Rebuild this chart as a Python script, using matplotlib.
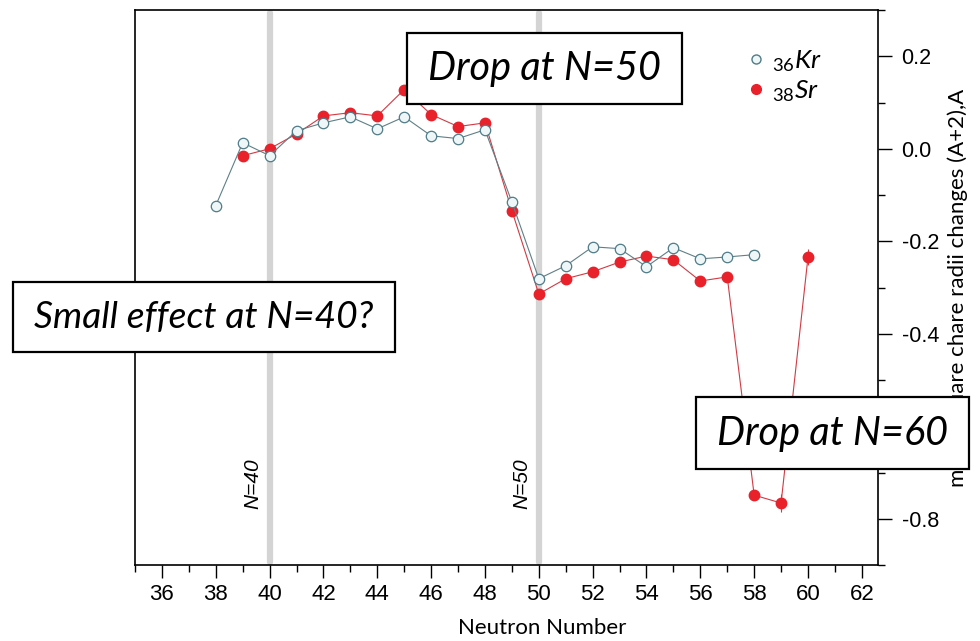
import numpy as np
import matplotlib
matplotlib.use('Agg')
import matplotlib.pyplot as plt
from matplotlib.patches import Rectangle
from matplotlib.lines import Line2D

# isotope shift data
kr_n = list(range(38, 59))
kr_dr = [-0.123, 0.013, -0.015, 0.039, 0.056, 0.069, 0.043, 0.069, 0.028, 0.022, 0.041,
         -0.115, -0.281, -0.253, -0.212, -0.216, -0.255, -0.214, -0.238, -0.234, -0.229]
kr_err = [0.0] * 20 + [0.008]

sr_n = list(range(39, 61))
sr_dr = [-0.015, 0.0, 0.032, 0.071, 0.078, 0.071, 0.128, 0.074, 0.048, 0.056,
         -0.134, -0.314, -0.281, -0.266, -0.245, -0.232, -0.240, -0.286, -0.277,
         -0.749, -0.766, -0.234]
sr_err = [0.0] * 19 + [0.006, 0.02, 0.018]

shell_n = [40, 50]
x_ticks = list(range(36, 63, 2))
y_ticks = [0.2, 0.0, -0.2, -0.4, -0.6, -0.8]
y_labels = ['0.2', '0.0', '-0.2', '-0.4', '-0.6', '-0.8']

KR_LINE = '#5f7f86'
KR_EDGE = '#4f7c88'
KR_FACE = '#eef6f8'
SR_LINE = '#d23a44'
SR_FACE = '#e8212b'
BAND = '#d4d4d4'
SANS = ['Lato', 'Open Sans', 'DejaVu Sans']

plt.rcParams['font.family'] = ['Liberation Sans', 'DejaVu Sans']
plt.rcParams['mathtext.fontset'] = 'custom'
plt.rcParams['mathtext.it'] = 'Lato:italic'
plt.rcParams['mathtext.rm'] = 'Lato'

fig = plt.figure(figsize=(9.8, 6.41), dpi=100)
W, H = 980, 641
ax = fig.add_axes([135 / W, 1 - 565 / H, (878 - 135) / W, (565 - 10) / H])

for n in shell_n:
    ax.axvline(n, ymin=0.006, ymax=0.994, color=BAND, lw=4.5, solid_capstyle='round', zorder=1)
    ax.text(n - 0.62, -0.725, f'N={n}', rotation=90, ha='center', va='center',
            fontsize=15, fontstyle='italic', zorder=2)

ax.errorbar(sr_n, sr_dr, yerr=sr_err, fmt='o', color=SR_LINE, ls='-', lw=0.8,
            ms=7.5, mfc=SR_FACE, mec=SR_FACE, elinewidth=0.8, capsize=0, zorder=3)
ax.errorbar(kr_n, kr_dr, yerr=kr_err, fmt='o', color=KR_LINE, ls='-', lw=0.8,
            ms=7.5, mfc=KR_FACE, mec=KR_EDGE, mew=0.9, elinewidth=0.8, capsize=3,
            ecolor=KR_EDGE, zorder=4)

ax.set_xlim(35, 62.6)
ax.set_ylim(-0.9, 0.3)
ax.set_xticks(x_ticks)
ax.set_xticks(range(35, 63), minor=True)
ax.set_yticks(y_ticks)
ax.set_yticklabels(y_labels)
ax.set_yticks(np.arange(-0.9, 0.31, 0.1), minor=True)
ax.yaxis.tick_right()
ax.yaxis.set_label_position('right')
ax.tick_params(axis='x', which='major', direction='out', length=9, width=1.0,
               labelsize=16, pad=5)
ax.tick_params(axis='y', which='major', direction='out', length=10, width=1.0,
               labelsize=15.5, pad=7)
ax.tick_params(which='minor', direction='out', length=5, width=1.0)
for sp in ax.spines.values():
    sp.set_linewidth(1.2)

ax.set_xlabel('Neutron Number', fontsize=16, family=SANS)
ax.xaxis.set_label_coords((542 - 135) / (878 - 135), -(618 - 565) / (565 - 10))
ax.set_ylabel('mean square chare radii changes (A+2),A', fontsize=16, family=SANS,
              labelpad=6)

handles = [Line2D([], [], ls='none', marker='o', ms=6.5, mfc=KR_FACE, mec=KR_EDGE, mew=1.0),
           Line2D([], [], ls='none', marker='o', ms=7, mfc=SR_FACE, mec=SR_FACE)]
ax.legend(handles, [r'$_{36}Kr$', r'$_{38}Sr$'], loc='upper left',
          bbox_to_anchor=((744 - 135) / (878 - 135), 1 - (48 - 10) / (565 - 10)),
          frameon=False, fontsize=19, handletextpad=0.15, labelspacing=0.15,
          handlelength=0.9, borderpad=0, borderaxespad=0)


def note(x0, y0, x1, y1, text, size):
    fig.patches.append(Rectangle((x0 / W, 1 - y1 / H), (x1 - x0) / W, (y1 - y0) / H,
                                 transform=fig.transFigure, facecolor='white',
                                 edgecolor='black', lw=1.6, zorder=10))
    fig.text((x0 + x1) / 2 / W, 1 - (y0 + y1) / 2 / H, text, ha='center', va='center',
             fontsize=size, fontstyle='italic', family=SANS, zorder=11)


note(407, 33, 682, 104, 'Drop at N=50', 28.5)
note(13, 282, 395, 352, 'Small effect at N=40?', 26.8)
note(696, 397, 969, 469, 'Drop at N=60', 28.5)

fig.savefig('out.png', dpi=100)
